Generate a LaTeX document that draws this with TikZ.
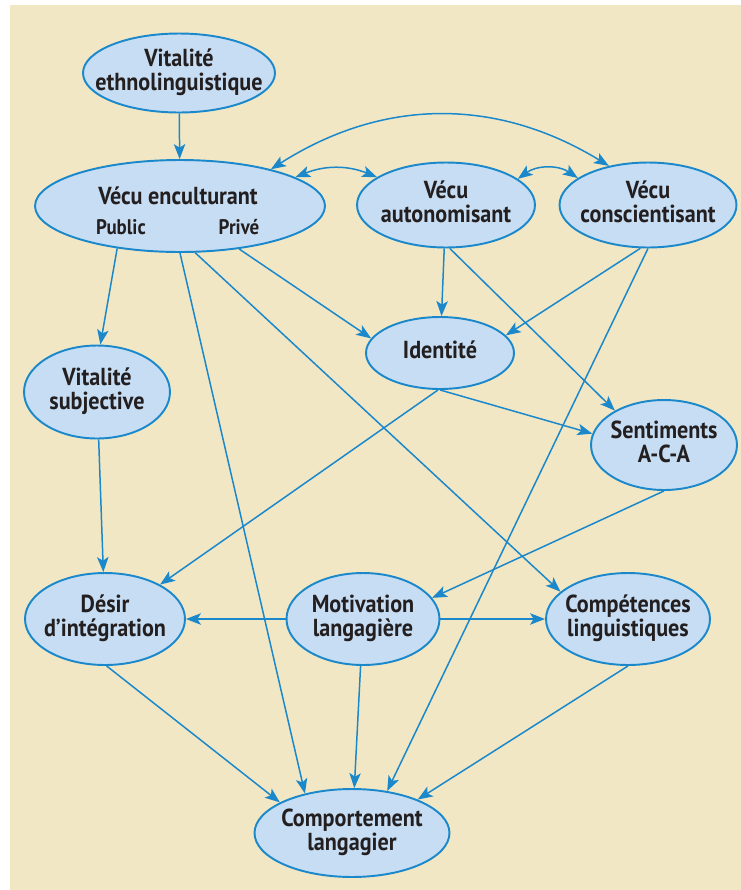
\documentclass[tikz,border=0pt]{standalone}
\usepackage{fontspec}
\setmainfont{PT Sans}[FakeStretch=0.9]
\usetikzlibrary{shapes.geometric,arrows.meta}
\definecolor{fond}{HTML}{F1E7C4}
\definecolor{bulle}{HTML}{C7DDF3}
\definecolor{trait}{HTML}{1A88CB}
\definecolor{encre}{HTML}{231F20}
\newcommand{\etiq}[1]{\makebox[0pt]{\begin{tabular}{@{}c@{}}#1\end{tabular}}}
\begin{document}
\begin{tikzpicture}[x=0.02cm,y=-0.02cm,
		ell/.style={ellipse, draw=trait, fill=bulle, line width=1.1pt, inner sep=0pt,
			text=encre, font=\fontsize{14}{12.5}\selectfont\bfseries},
		sub/.style={text=encre, inner sep=0pt, font=\fontsize{12}{12}\selectfont\bfseries},
		arr/.style={draw=trait, line width=0.85pt, -{Stealth[length=8.5pt,width=6.5pt,inset=2pt]}},
		darr/.style={draw=trait, line width=0.85pt, {Stealth[length=8.5pt,width=6.5pt,inset=2pt]}-{Stealth[length=8.5pt,width=6.5pt,inset=2pt]}}]
			\useasboundingbox (0,0) rectangle (741,890);
			\fill[fond] (10,5) rectangle (741,890);
			%
			\node[ell, minimum width=3.84cm, minimum height=1.58cm] (ve)   at (179,73)  {\etiq{Vitalité\\ethnolinguistique}};
			\node[ell, minimum width=5.80cm, minimum height=1.84cm] (venc) at (180,206) {};
			\node[ell, minimum width=3.56cm, minimum height=1.70cm] (va)   at (446,205) {\etiq{Vécu\\autonomisant}};
			\node[ell, minimum width=3.54cm, minimum height=1.70cm] (vc)   at (648,205) {\etiq{Vécu\\conscientisant}};
			\node[ell, minimum width=2.96cm, minimum height=1.44cm] (id)   at (440,353) {\etiq{Identité}};
			\node[ell, minimum width=2.92cm, minimum height=1.86cm] (vs)   at (97,392)  {\etiq{Vitalité\\subjective}};
			\node[ell, minimum width=2.92cm, minimum height=1.80cm] (sa)   at (664,445) {\etiq{Sentiments\\A-C-A}};
			\node[ell, minimum width=3.20cm, minimum height=1.84cm] (di)   at (105,619) {\etiq{Désir\\d’intégration}};
			\node[ell, minimum width=3.06cm, minimum height=1.84cm] (ml)   at (363,619) {\etiq{Motivation\\langagière}};
			\node[ell, minimum width=3.28cm, minimum height=1.84cm] (cl)   at (628,619) {\etiq{Compétences\\linguistiques}};
			\node[ell, minimum width=3.90cm, minimum height=1.76cm] (cp)   at (352,833) {\etiq{Comportement\\langagier}};
			%
			\node[ell, draw=none, fill=none] (venc-t) at (178,199) {\etiq{Vécu enculturant}};
			\node[sub] (pub)  at (121,227) {Public};
			\node[sub] (priv) at (239,227) {Privé};
			%
			\draw[darr] (venc.22) to[bend left=32] (vc.135);
			\draw[darr] (venc.14) to[bend left=22] (va.158);
			\draw[darr] (va.20)   to[bend left=35] (vc.159);
			%
			\def\liens {ve/venc, venc.-146/vs.86, venc.-90/cp.140, venc.-72/cl.158, venc.-36/id.168,
				va/id, va.-85/sa.145, vc.-100/id.15, vc.-90/cp.50, id.-90/sa.171, id.-93/di.32,
				vs/di, sa.-90/ml.17, ml/di, ml/cl, di.-88/cp.157, ml/cp, cl.-90/cp.27}  % list elements
			\foreach \u/\v in \liens
			{	\draw[arr] (\u) -- (\v);
			}
			%
		\end{tikzpicture}
\end{document}
